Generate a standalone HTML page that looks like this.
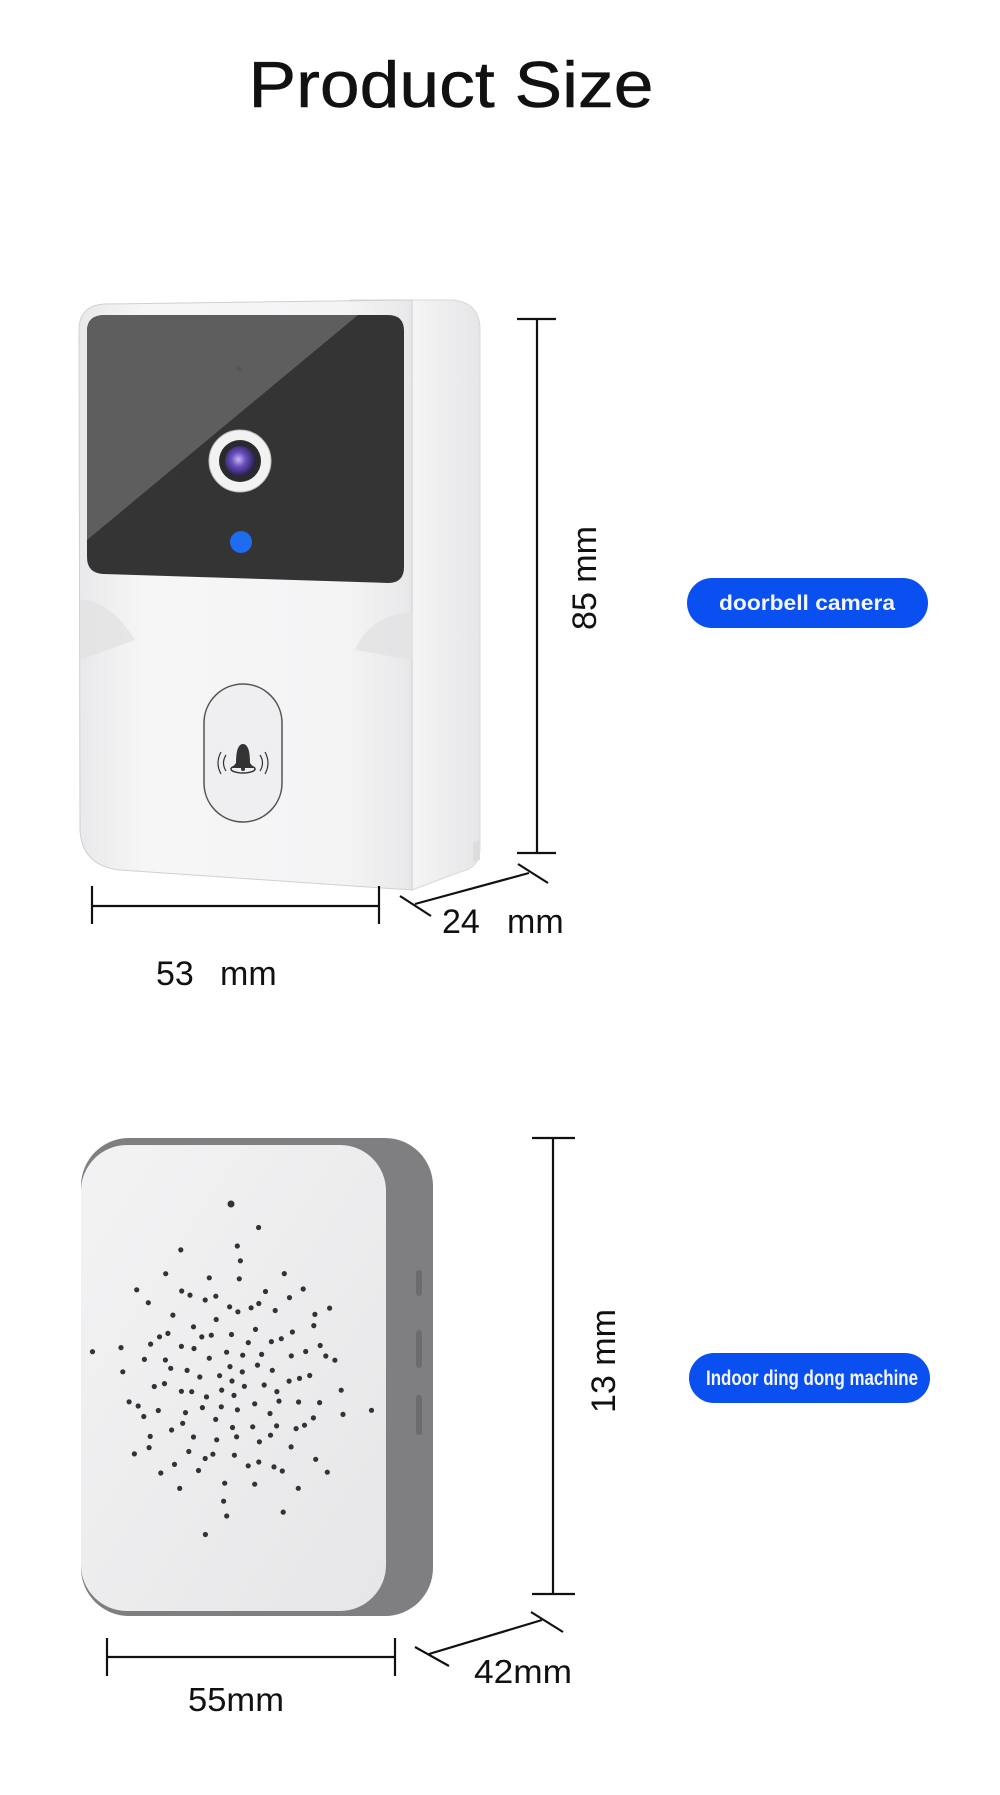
<!DOCTYPE html>
<html><head><meta charset="utf-8"><style>
html,body{margin:0;padding:0;background:#fff;}
svg{display:block;}
text{font-family:"Liberation Sans",sans-serif;}
</style></head><body>
<svg width="1000" height="1795" viewBox="0 0 1000 1795" xmlns="http://www.w3.org/2000/svg">
<defs>
<linearGradient id="side" x1="0" y1="0" x2="1" y2="0"><stop offset="0" stop-color="#e4e4e6"/><stop offset="0.5" stop-color="#f4f4f5"/><stop offset="1" stop-color="#e6e6e8"/></linearGradient>
<linearGradient id="face" x1="0" y1="0" x2="1" y2="0"><stop offset="0" stop-color="#e9e9eb"/><stop offset="0.2" stop-color="#f6f6f7"/><stop offset="0.8" stop-color="#f4f4f5"/><stop offset="1" stop-color="#e8e8ea"/></linearGradient>
<radialGradient id="lens" cx="0.45" cy="0.45" r="0.6"><stop offset="0" stop-color="#c8b8f0"/><stop offset="0.4" stop-color="#6a4fc0"/><stop offset="1" stop-color="#1c1a40"/></radialGradient>
<linearGradient id="chface" x1="0" y1="0" x2="1" y2="1"><stop offset="0" stop-color="#f3f3f4"/><stop offset="1" stop-color="#e6e6e8"/></linearGradient>
</defs>

<text x="451" y="107" font-size="65" text-anchor="middle" textLength="405" lengthAdjust="spacingAndGlyphs" fill="#111" stroke="#111" stroke-width="0.5">Product Size</text>

<path d="M350 300 L452 300 Q480 302 480 330 L480 848 Q480 868 460 872 L412 890 Z" fill="url(#side)" stroke="#d8d8da" stroke-width="1"/>
<path d="M104 304 L412 300 L412 890 L120 870 Q82 866 80 830 L79 330 Q79 306 104 304 Z" fill="url(#face)" stroke="#d0d0d2" stroke-width="1"/>
<path d="M80 600 Q110 600 135 640 L80 660 Z" fill="#e2e2e4" opacity="0.8"/>
<path d="M412 612 Q370 615 355 650 L412 660 Z" fill="#e2e2e4" opacity="0.8"/>
<path d="M473 842 L480 840 L480 860 L473 862 Z" fill="#ddd"/>
<path d="M105 315 L388 315 Q404 315 404 331 L404 567 Q404 583 388 583 L103 574 Q87 573 87 557 L87 331 Q87 315 105 315 Z" fill="#343434"/>
<path d="M105 315 L358 315 L87 540 L87 331 Q87 315 105 315 Z" fill="#5e5e5e"/>
<circle cx="239" cy="369" r="2.5" fill="#555"/>
<circle cx="240" cy="461" r="31" fill="#f2f2f2" stroke="#bbb" stroke-width="1"/>
<circle cx="240" cy="461" r="21" fill="#2a2a2e"/>
<circle cx="240" cy="461" r="15" fill="url(#lens)"/>
<circle cx="241" cy="542" r="11" fill="#1e6cf0"/>
<rect x="204" y="684" width="78" height="138" rx="39" fill="#efeff1" stroke="#555" stroke-width="1.5"/>
<path d="M236 763 Q236 744 243 744 Q250 744 250 763 L254 768 L232 768 Z" fill="#333"/>
<ellipse cx="243" cy="769" rx="12" ry="4" fill="none" stroke="#333" stroke-width="1.5"/>
<circle cx="243" cy="769" r="2" fill="#333"/>
<path d="M226 755 Q221 763 226 771 M221 752 Q215 763 221 774 M260 755 Q265 763 260 771 M265 752 Q271 763 265 774" fill="none" stroke="#333" stroke-width="1.2"/>

<g stroke="#111" stroke-width="2.2" fill="none">
<line x1="537" y1="319" x2="537" y2="853"/><line x1="517" y1="319" x2="556" y2="319"/><line x1="517" y1="853" x2="556" y2="853"/>
<line x1="92" y1="906" x2="379" y2="906"/><line x1="92" y1="886" x2="92" y2="924"/><line x1="379" y1="886" x2="379" y2="924"/>
<line x1="415" y1="904" x2="529" y2="873"/><line x1="400" y1="896" x2="431" y2="916"/><line x1="518" y1="864" x2="548" y2="883"/>
</g>
<text transform="translate(596,578) rotate(-90)" font-size="34" text-anchor="middle" fill="#111">85 mm</text>
<text x="156" y="985" font-size="34" fill="#111">53</text>
<text x="220" y="985" font-size="34" fill="#111">mm</text>
<text x="442" y="933" font-size="34" fill="#111">24</text>
<text x="507" y="933" font-size="34" fill="#111">mm</text>

<rect x="687" y="578" width="241" height="50" rx="25" fill="#0a4ff0"/>
<text x="807" y="610" font-size="21" font-weight="bold" text-anchor="middle" fill="#f4f6ff" textLength="176" lengthAdjust="spacingAndGlyphs">doorbell camera</text>

<rect x="81" y="1138" width="352" height="478" rx="48" fill="#7f7f82"/>
<rect x="81" y="1145" width="305" height="466" rx="46" fill="url(#chface)"/>
<rect x="416" y="1270" width="6" height="26" rx="3" fill="#6c6c6f"/>
<rect x="416" y="1330" width="6" height="38" rx="3" fill="#6c6c6f"/>
<rect x="416" y="1395" width="6" height="40" rx="3" fill="#6c6c6f"/>
<circle cx="231" cy="1204" r="3.5" fill="#333"/>
<g id="dots" fill="#333"></g>

<g stroke="#111" stroke-width="2.2" fill="none">
<line x1="553" y1="1138" x2="553" y2="1594"/><line x1="532" y1="1138" x2="575" y2="1138"/><line x1="532" y1="1594" x2="575" y2="1594"/>
<line x1="107" y1="1657" x2="395" y2="1657"/><line x1="107" y1="1638" x2="107" y2="1676"/><line x1="395" y1="1638" x2="395" y2="1676"/>
<line x1="429" y1="1654" x2="542" y2="1620"/><line x1="415" y1="1647" x2="449" y2="1666"/><line x1="531" y1="1612" x2="563" y2="1632"/>
</g>
<text transform="translate(615,1361) rotate(-90)" font-size="34" text-anchor="middle" fill="#111">13 mm</text>
<text x="188" y="1711" font-size="33" fill="#111" textLength="96" lengthAdjust="spacingAndGlyphs">55mm</text>
<text x="474" y="1683" font-size="33" fill="#111" textLength="98" lengthAdjust="spacingAndGlyphs">42mm</text>

<rect x="689" y="1353" width="241" height="50" rx="25" fill="#0a4ff0"/>
<text x="812" y="1385" font-size="21" font-weight="bold" text-anchor="middle" fill="#f4f6ff" textLength="212" lengthAdjust="spacingAndGlyphs">Indoor ding dong machine</text>
</svg>
<script>
(function(){
var g=document.getElementById('dots'),cx=232,cy=1381,s='';
var rings=[[0,1],[15,6],[29,10],[43,14],[57,17],[71,20],[85,22],[100,20],[116,14],[130,8]];
for(var i=0;i<rings.length;i++){var r=rings[i][0],n=rings[i][1];
for(var k=0;k<n;k++){var a=(k/n)*Math.PI*2+i*0.37;
var rx=r*(1+0.12*Math.sin(a*12)),x=cx+rx*Math.cos(a),y=cy+rx*1.1*Math.sin(a);
s+='<circle cx="'+x.toFixed(1)+'" cy="'+y.toFixed(1)+'" r="2.6"/>';}}
g.innerHTML=s;
})();
</script>
</body></html>
